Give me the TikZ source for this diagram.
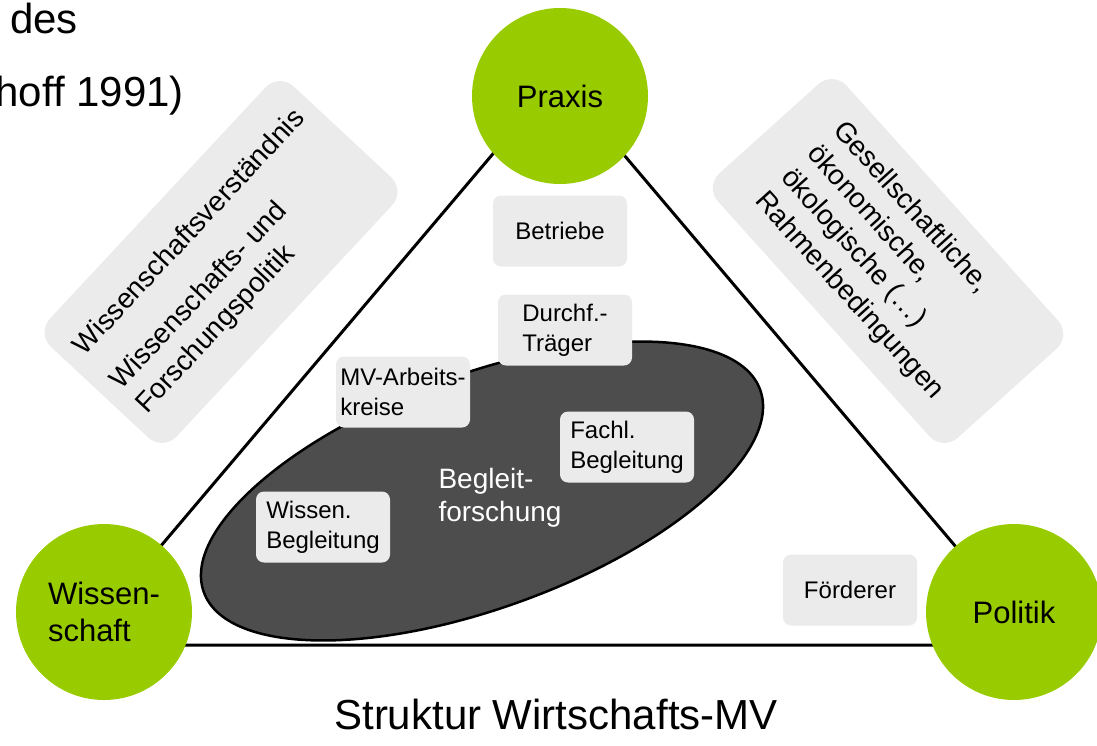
\documentclass[tikz,border=0pt]{standalone}
\usepackage{fontspec}
\setmainfont{Liberation Sans}
\usetikzlibrary{shapes.geometric}
\definecolor{PoleGreen}{HTML}{99CC00}
\definecolor{BoxGray}{HTML}{EBEBEB}
\definecolor{CoreGray}{HTML}{4D4D4D}

\begin{document}
\begin{tikzpicture}[x=1pt, y=-1pt,
  pole/.style={circle, fill=PoleGreen, minimum size=176pt, inner sep=0pt, align=left, font=\fontsize{31}{37}\selectfont},
  smallbox/.style={rounded corners=8pt, fill=BoxGray, minimum width=134pt, minimum height=71pt, inner sep=2pt, align=left, font=\fontsize{24}{30}\selectfont},
  bigbox/.style={rounded corners=20pt, fill=BoxGray, minimum width=356pt, minimum height=173pt, inner sep=4pt, align=left, font=\fontsize{28}{35}\selectfont},
  edge/.style={line width=3pt, black},
  title/.style={inner sep=0pt, font=\fontsize{42}{50}\selectfont}
]
\useasboundingbox (0,0) rectangle (1097,745);
\node[title, anchor=base west] (headA) at (10,33) {des};
\node[title, anchor=base east] (headB) at (184,106) {hoff 1991)};
\node[title, anchor=base] (caption) at (556,729) {Struktur Wirtschafts-MV};
\coordinate (tp) at (558,77);
\coordinate (tl) at (77,645);
\coordinate (tr) at (1039,645);
\draw[edge] (tp) -- (tl) -- (tr) -- cycle;
\node[bigbox, rotate=47] (science) at (221,262) {Wissenschaftsverständnis\\[15pt]Wissenschafts- und\\Forschungspolitik};
\node[bigbox, rotate=-48] (frame) at (888,261) {Gesellschaftliche,\\ökonomische,\\ökologische (…)\\Rahmenbedingungen};
\node[ellipse, draw=black, line width=2.5pt, fill=CoreGray, minimum width=592pt, minimum height=234pt, rotate=20] (core) at (482,491) {};
\node[inner sep=0pt, align=left, text=white, font=\fontsize{28}{33}\selectfont] (coretext) at (500,498) {Begleit-\\forschung};
\node[smallbox] (firms) at (560,231) {Betriebe};
\node[smallbox] (carrier) at (565,330) {Durchf.-\\Träger};
\node[smallbox] (groups) at (403,392) {MV-Arbeits-\\kreise};
\node[smallbox] (expert) at (627,447) {Fachl.\\Begleitung};
\node[smallbox] (research) at (323,527) {Wissen.\\Begleitung};
\node[smallbox] (funder) at (850,590) {Förderer};
\node[pole] (praxis) at (560,96) {Praxis};
\node[pole] (wiss) at (104,612) {Wissen-\\schaft};
\node[pole] (politik) at (1014,612) {Politik};
\end{tikzpicture}
\end{document}
